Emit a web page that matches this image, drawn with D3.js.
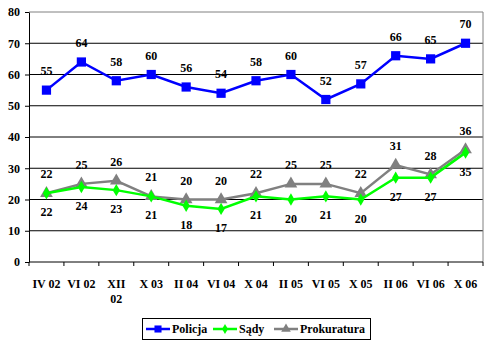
<!DOCTYPE html>
<html><head><meta charset="utf-8">
<script src="https://cdn.jsdelivr.net/npm/d3@7"></script>
<style>body{margin:0;background:#fff}svg text{font-family:'Liberation Serif',serif !important;font-weight:bold;font-size:12px}</style>
</head><body>
<svg id="c" width="492" height="346"></svg>
<script>
const categories = ["IV 02","VI 02","XII 02","X 03","II 04","VI 04","X 04","II 05","VI 05","X 05","II 06","VI 06","X 06"];
const policja = [55,64,58,60,56,54,58,60,52,57,66,65,70];
const sady = [22,24,23,21,18,17,21,20,21,20,27,27,35];
const prokuratura = [22,25,26,21,20,20,22,25,25,22,31,28,36];
const yTicks = [0,10,20,30,40,50,60,70,80];
const seriesNames = ["Policja","Sądy","Prokuratura"];

const svg = d3.select("#c");
const L=29, R=483, T=12, B=262;
const x = d3.scaleBand().domain(categories).range([L,R]);
const y = d3.scaleLinear().domain([0,80]).range([B,T]);

svg.append("g").selectAll("line").data(yTicks.filter(d=>d>0&&d<80)).join("line")
  .attr("x1",L).attr("x2",R).attr("y1",d=>y(d)).attr("y2",d=>y(d)).attr("stroke","#000").attr("stroke-width",1);
svg.append("path").attr("d",`M${L},${y(80)}H${R}V${B}`).attr("fill","none").attr("stroke","#808080");

const ya = svg.append("g").attr("transform",`translate(${L},0)`).call(d3.axisLeft(y).tickValues(yTicks).tickSize(4).tickSizeOuter(0));
ya.attr("font-family",null).attr("font-size",null);
ya.select(".domain").attr("stroke","#000");
ya.selectAll("text").attr("x",-9).attr("fill","#000");
const xa = svg.append("g").attr("transform",`translate(0,${B})`);
xa.append("line").attr("x1",L).attr("x2",R).attr("y1",0).attr("y2",0).attr("stroke","#000");
const edges = categories.map(c=>x(c)).concat([R]);
xa.selectAll("line.t").data(edges).join("line").attr("class","t").attr("x1",d=>d).attr("x2",d=>d).attr("y1",0).attr("y2",4).attr("stroke","#000");
xa.selectAll("text.l").data(categories).join("text").attr("class","l")
  .attr("x",d=>x(d)+x.bandwidth()/2).attr("y",26).attr("text-anchor","middle")
  .each(function(d){
    const t=d3.select(this);
    if(d==="XII 02"){ t.append("tspan").attr("x",x(d)+x.bandwidth()/2).text("XII"); t.append("tspan").attr("x",x(d)+x.bandwidth()/2).attr("dy",15).text("02"); }
    else t.text(d);
  });

const cx = c=>x(c)+x.bandwidth()/2;
const line = d3.line().x((d,i)=>cx(categories[i])).y(d=>y(d));

function drawSeries(data,color,shape,size,labelPos){
  svg.append("path").datum(data).attr("d",line).attr("fill","none").attr("stroke",color).attr("stroke-width",2.5);
  svg.append("g").selectAll("path").data(data).join("path")
    .attr("d",d3.symbol().type(shape).size(size))
    .attr("transform",(d,i)=>`translate(${cx(categories[i])},${y(d)})`).attr("fill",color);
  svg.append("g").selectAll("text").data(data).join("text")
    .attr("x",(d,i)=>cx(categories[i])).attr("y",(d,i)=>y(d)+labelPos(i))
    .attr("text-anchor","middle").attr("fill","#000").text(d=>d);
}
drawSeries(prokuratura,"#808080",d3.symbolTriangle,70,i=>-15);
drawSeries(sady,"#00ff00",d3.symbolDiamond,45,i=>23);
drawSeries(policja,"#0000ff",d3.symbolSquare,85,i=>-15);

const lg = svg.append("g");
lg.append("rect").attr("x",142.5).attr("y",318.5).attr("width",228).attr("height",21).attr("fill","#fff").attr("stroke","#000");
const legItems=[{n:seriesNames[0],c:"#0000ff",s:d3.symbolSquare,sz:50,x:146},{n:seriesNames[1],c:"#00ff00",s:d3.symbolDiamond,sz:30,x:213},{n:seriesNames[2],c:"#808080",s:d3.symbolTriangle,sz:40,x:274}];
legItems.forEach(it=>{
  lg.append("line").attr("x1",it.x).attr("x2",it.x+24).attr("y1",329).attr("y2",329).attr("stroke",it.c).attr("stroke-width",2.5);
  lg.append("path").attr("d",d3.symbol().type(it.s).size(it.sz)).attr("transform",`translate(${it.x+12},329)`).attr("fill",it.c);
  lg.append("text").attr("x",it.x+26).attr("y",333).attr("fill","#000").text(it.n);
});
</script>
</body></html>
